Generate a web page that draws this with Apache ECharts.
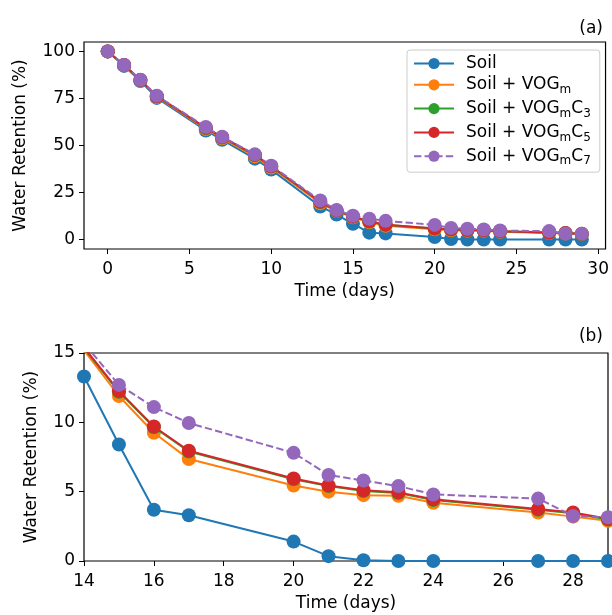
<!DOCTYPE html>
<html>
<head>
<meta charset="utf-8">
<script src="https://cdn.jsdelivr.net/npm/echarts@6/dist/echarts.min.js"></script>
<style>html,body{margin:0;padding:0;background:#fff}#c{width:612px;height:615px}</style>
</head>
<body>
<div id="c"></div>
<script>
// ---- data ----
const days = [0, 1, 2, 3, 6, 7, 9, 10, 13, 14, 15, 16, 17, 20, 21, 22, 23, 24, 27, 28, 29];
const soil   = [100, 92.3, 84.3, 75.3, 58.0, 53.0, 43.0, 37.2, 17.6, 13.3, 8.4, 3.7, 3.3, 1.4, 0.35, 0.05, 0, 0, 0, 0, 0];
const vogm   = [100, 92.6, 84.6, 75.8, 58.8, 53.8, 44.2, 38.3, 19.3, 15.2, 11.9, 9.25, 7.35, 5.45, 5.0, 4.75, 4.7, 4.2, 3.5, 3.2, 2.9];
const vogmC3 = [100, 92.8, 84.8, 76.1, 59.3, 54.3, 44.9, 38.9, 20.0, 15.35, 12.2, 9.65, 7.9, 5.9, 5.4, 5.05, 4.9, 4.4, 3.7, 3.45, 3.0];
const vogmC5 = [100, 92.8, 84.8, 76.2, 59.4, 54.4, 45.0, 39.0, 20.1, 15.4, 12.25, 9.7, 7.95, 5.95, 5.45, 5.1, 4.95, 4.45, 3.75, 3.5, 3.05];
const vogmC7 = [100, 92.8, 84.9, 76.5, 59.8, 54.6, 45.3, 39.3, 20.8, 15.7, 12.7, 11.1, 9.95, 7.8, 6.2, 5.8, 5.4, 4.8, 4.5, 3.25, 3.15];
const seriesNames = ['Soil', 'Soil + VOGm', 'Soil + VOGmC3', 'Soil + VOGmC5', 'Soil + VOGmC7'];
const legendMain = ['Soil', 'Soil + VOG', 'Soil + VOG', 'Soil + VOG', 'Soil + VOG'];
const legendSub1 = ['', 'm', 'm', 'm', 'm'];
const legendMid  = ['', '', 'C', 'C', 'C'];
const legendSub2 = ['', '', '3', '5', '7'];
const colors = ['#1f77b4', '#ff7f0e', '#2ca02c', '#d62728', '#9467bd'];
const lineTypes = ['solid', 'solid', 'solid', 'solid', [7.4, 3.2]];
const xTicksA = [0, 5, 10, 15, 20, 25, 30];
const yTicksA = [0, 25, 50, 75, 100];
const xTicksB = [14, 16, 18, 20, 22, 24, 26, 28];
const yTicksB = [0, 5, 10, 15];
const xLabel = 'Time (days)';
const yLabel = 'Water Retention (%)';
const panelLabels = ['(a)', '(b)'];

const allValues = [soil, vogm, vogmC3, vogmC5, vogmC7];
const FONT = 'DejaVu Sans';
const TXT = '#000';

function pairs(vals) { return days.map((d, i) => [d, vals[i]]); }

function axisCommon() {
  return {
    axisLine: { show: false, onZero: false },
    axisTick: { show: true, inside: false, length: 5, lineStyle: { color: '#000', width: 1 } },
    splitLine: { show: false },
    axisLabel: { color: TXT, fontFamily: FONT, fontSize: 17 },
    nameTextStyle: { color: TXT, fontFamily: FONT, fontSize: 17 }
  };
}
function mkX(idx, min, max, ticks) {
  const a = axisCommon();
  a.axisTick.customValues = ticks;
  a.axisLabel.customValues = ticks;
  a.axisLabel.margin = 12;
  return Object.assign(a, { type: 'value', gridIndex: idx, min: min, max: max, position: 'bottom',
    name: xLabel, nameLocation: 'middle', nameGap: 34 });
}
function mkY(idx, min, max, ticks, gap) {
  const a = axisCommon();
  a.axisTick.customValues = ticks;
  a.axisLabel.customValues = ticks;
  a.axisLabel.margin = 9;
  return Object.assign(a, { type: 'value', gridIndex: idx, min: min, max: max, position: 'left',
    name: yLabel, nameLocation: 'middle', nameGap: gap });
}

const series = [];
[0, 1].forEach(g => {
  allValues.forEach((vals, i) => {
    series.push({
      type: 'line', name: seriesNames[i], xAxisIndex: g, yAxisIndex: g,
      data: pairs(vals), clip: true,
      symbol: 'circle', symbolSize: 14, showSymbol: true,
      lineStyle: { color: colors[i], width: 2, type: lineTypes[i] },
      itemStyle: { color: colors[i] },
      emphasis: { disabled: true },
      animation: false, z: 2 + i * 0.1
    });
  });
});

const chart = echarts.init(document.getElementById('c'), null, { renderer: 'canvas' });
chart.setOption({
  animation: false,
  backgroundColor: '#fff',
  title: [
    { text: panelLabels[0], right: 4, top: 15, textStyle: { fontFamily: FONT, fontSize: 17, fontWeight: 'normal', color: TXT } },
    { text: panelLabels[1], right: 4, top: 323, textStyle: { fontFamily: FONT, fontSize: 17, fontWeight: 'normal', color: TXT } }
  ],
  grid: [
    { left: 84, top: 42, width: 524, height: 207, show: true, borderColor: '#000', borderWidth: 1.2, backgroundColor: 'transparent' },
    { left: 84, top: 353, width: 524, height: 208, show: true, borderColor: '#000', borderWidth: 1.2, backgroundColor: 'transparent' }
  ],
  xAxis: [ mkX(0, -1.45, 30.45, xTicksA), mkX(1, 14, 29, xTicksB) ],
  yAxis: [ mkY(0, -5, 105, yTicksA, 55), mkY(1, 0, 15, yTicksB, 44) ],
  legend: {
    data: seriesNames,
    orient: 'vertical', left: 407, top: 50,
    padding: [5, 9, 5, 6],
    itemWidth: 40, itemHeight: 14, itemGap: 4.3,
    backgroundColor: 'rgba(255,255,255,0.85)',
    borderColor: '#cccccc', borderWidth: 1, borderRadius: 3,
    formatter: function (name) {
      const i = seriesNames.indexOf(name);
      let s = '{n|' + legendMain[i] + '}';
      if (legendSub1[i]) s += '{s|' + legendSub1[i] + '}';
      if (legendMid[i]) s += '{c|' + legendMid[i] + '}';
      if (legendSub2[i]) s += '{s|' + legendSub2[i] + '}';
      return s;
    },
    textStyle: {
      fontFamily: FONT, fontSize: 17, color: TXT,
      rich: {
        n: { fontFamily: FONT, fontSize: 17, color: TXT, lineHeight: 22, padding: [0, 0, 0, 7] },
        c: { fontFamily: FONT, fontSize: 17, color: TXT, lineHeight: 22 },
        s: { fontFamily: FONT, fontSize: 12, color: TXT, lineHeight: 12, padding: [6, 0, 0, 0], verticalAlign: 'bottom' }
      }
    }
  },
  series: series
});
</script>
</body>
</html>
